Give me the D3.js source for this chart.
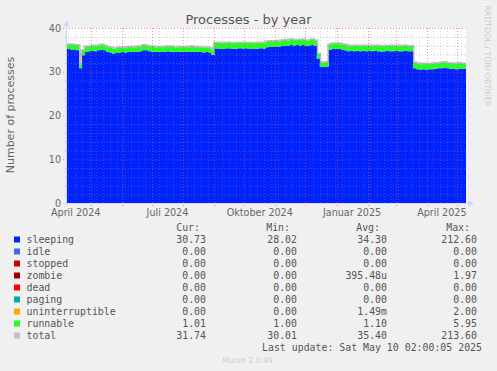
<!DOCTYPE html>
<html>
<head>
<meta charset="utf-8">
<title>Processes - by year</title>
<script src="https://d3js.org/d3.v7.min.js"></script>
<style>
  body { margin: 0; background: #f0f0f0; }
  svg { display: block; }
  text { font-family: "DejaVu Sans", sans-serif; }
  .mono { font-family: "DejaVu Sans Mono", monospace; }
</style>
</head>
<body>
<div id="chart"></div>
<script>
const width = 497, height = 371;

// graph window (one pixel is roughly one day)
const start = new Date(2024, 3, 7, 8);
const end = new Date(2025, 4, 10, 2);
const stepDays = 3;   // one sample every 3 days

// sleeping processes
const sleeping = [
  35.2, 35.1, 35.0, 34.9, 30.8, 33.8, 34.6, 34.7, 34.8, 34.7,
  34.9, 35.0, 34.9, 34.6, 34.4, 34.2, 34.3, 34.4, 34.5, 34.4,
  34.5, 34.6, 34.5, 34.6, 34.7, 34.9, 34.9, 34.7, 34.6, 34.5,
  34.6, 34.5, 34.6, 34.7, 34.6, 34.6, 34.5, 34.6, 34.5, 34.6,
  34.5, 34.6, 34.5, 34.6, 34.5, 34.4, 34.5, 34.4, 33.9, 35.3,
  35.3, 35.2, 35.3, 35.4, 35.3, 35.2, 35.3, 35.4, 35.3, 35.4,
  35.3, 35.3, 35.2, 35.3, 35.4, 35.3, 35.6, 35.8, 35.7, 35.8,
  35.7, 35.9, 36.0, 35.9, 36.1, 36.0, 36.1, 36.0, 36.1, 35.9,
  36.0, 36.1, 35.9, 33.0, 31.2, 31.1, 31.2, 35.0, 35.3, 35.2,
  35.3, 35.1, 34.9, 34.7, 34.8, 34.7, 34.8, 34.7, 34.8, 34.7,
  34.8, 34.7, 34.8, 34.7, 34.6, 34.7, 34.8, 34.7, 34.7, 34.8,
  34.7, 34.7, 34.8, 34.7, 34.7, 30.8, 30.6, 30.5, 30.6, 30.5,
  30.6, 30.6, 30.7, 30.8, 30.8, 30.9, 30.8, 30.7, 30.7, 30.6,
  30.7, 30.7, 30.7
];

// runnable processes
const runnable = [
  1.0, 1.1, 1.0, 1.1, 0.8, 1.0, 1.1, 1.0, 1.1, 1.1,
  1.0, 1.1, 1.0, 1.0, 1.1, 1.0, 1.0, 1.1, 1.0, 1.0,
  1.1, 1.0, 1.0, 1.1, 1.0, 1.1, 1.0, 1.0, 1.1, 1.0,
  1.0, 1.1, 1.0, 1.0, 1.1, 1.0, 1.0, 1.0, 1.1, 1.0,
  1.0, 1.1, 1.0, 1.0, 1.0, 1.1, 1.0, 1.0, 1.0, 1.3,
  1.3, 1.2, 1.3, 1.2, 1.2, 1.3, 1.2, 1.2, 1.3, 1.2,
  1.2, 1.2, 1.3, 1.2, 1.2, 1.2, 1.2, 1.1, 1.2, 1.2,
  1.1, 1.2, 1.2, 1.1, 1.2, 1.2, 1.1, 1.2, 1.2, 1.2,
  1.1, 1.2, 1.2, 1.0, 0.9, 0.9, 1.0, 1.2, 1.1, 1.2,
  1.1, 1.1, 1.2, 1.1, 1.1, 1.2, 1.1, 1.1, 1.1, 1.2,
  1.1, 1.1, 1.1, 1.2, 1.1, 1.1, 1.1, 1.2, 1.1, 1.1,
  1.1, 1.2, 1.1, 1.1, 1.1, 1.2, 1.2, 1.1, 1.2, 1.2,
  1.1, 1.2, 1.2, 1.1, 1.2, 1.2, 1.1, 1.2, 1.1, 1.1,
  1.2, 1.1, 1.0
];

const yTicks = [0, 10, 20, 30, 40];
const xLabelMonths = [new Date(2024, 3, 1), new Date(2024, 6, 1), new Date(2024, 9, 1), new Date(2025, 0, 1), new Date(2025, 3, 1)];
const xLabels = ["April 2024", "Juli 2024", "Oktober 2024", "Januar 2025", "April 2025"];

const legendNames = ["sleeping", "idle", "stopped", "zombie", "dead", "paging", "uninterruptible", "runnable", "total"];
const legendColors = ["#0022ff", "#4169e1", "#cc0000", "#990000", "#ff0000", "#00aaaa", "#ffa500", "#22ff22", "#c0c0c0"];
const curVals = ["30.73", "0.00", "0.00", "0.00", "0.00", "0.00", "0.00", "1.01", "31.74"];
const minVals = ["28.02", "0.00", "0.00", "0.00", "0.00", "0.00", "0.00", "1.00", "30.01"];
const avgVals = ["34.30", "0.00", "0.00", "395.48u", "0.00", "0.00", "1.49m", "1.10", "35.40"];
const maxVals = ["212.60", "0.00", "0.00", "1.97", "0.00", "0.00", "2.00", "5.95", "213.60"];

const rows = sleeping.map(function(v, i) {
  return { date: d3.timeDay.offset(start, i * stepDays), sleeping: v, runnable: runnable[i] };
});
// hold the last sample until the right edge
rows.push({ date: end, sleeping: sleeping[sleeping.length - 1], runnable: runnable[runnable.length - 1] });

const x = d3.scaleTime().domain([start, end]).range([67, 466]);
const y = d3.scaleLinear().domain([0, 40]).range([203, 28]);

const svg = d3.select("#chart").append("svg")
  .attr("width", width)
  .attr("height", height);

svg.append("rect").attr("width", width).attr("height", height).attr("fill", "#f0f0f0");
svg.append("rect")
  .attr("x", x.range()[0]).attr("y", y(40))
  .attr("width", x.range()[1] - x.range()[0]).attr("height", y(0) - y(40))
  .attr("fill", "#ffffff");

// stacked areas
const stack = d3.stack().keys(["sleeping", "runnable"]);
const series = stack(rows);
const area = d3.area()
  .curve(d3.curveStepAfter)
  .x(function(d) { return x(d.data.date); })
  .y0(function(d) { return y(d[0]); })
  .y1(function(d) { return y(d[1]); });

// total line (sum of the stacked series), drawn underneath so it peeks out above
const totalLine = d3.line()
  .curve(d3.curveStepAfter)
  .x(function(d) { return x(d.date); })
  .y(function(d) { return y(d.sleeping + d.runnable); });

svg.append("path")
  .datum(rows)
  .attr("fill", "none")
  .attr("stroke", "#c0c0c0")
  .attr("stroke-width", 3)
  .attr("d", totalLine);

svg.append("g").selectAll("path")
  .data(series)
  .join("path")
  .attr("fill", function(d) { return d.key == "sleeping" ? legendColors[0] : legendColors[7]; })
  .attr("d", area);

// grid
const grid = svg.append("g");
const minorY = d3.range(0, 41, 2).filter(function(v) { return v % 10 != 0; });
grid.selectAll(".hminor").data(minorY).join("line")
  .attr("x1", 65).attr("x2", 466)
  .attr("y1", function(d) { return y(d) + 0.5; }).attr("y2", function(d) { return y(d) + 0.5; })
  .attr("stroke", "rgba(140,140,140,0.5)").attr("stroke-dasharray", "1,2");

const months = d3.timeMonth.range(start, end);
const mondays = d3.timeMonday.range(start, end).filter(function(d) {
  return !months.some(function(m) { return Math.abs(m - d) < 86400000 * 1.5; });
});
grid.selectAll(".vminor").data(mondays).join("line")
  .attr("x1", function(d) { return Math.round(x(d)) + 0.5; }).attr("x2", function(d) { return Math.round(x(d)) + 0.5; })
  .attr("y1", y(40)).attr("y2", 205)
  .attr("stroke", "rgba(150,150,150,0.3)").attr("stroke-dasharray", "1,2");

grid.selectAll(".hmajor").data(yTicks.slice(1)).join("line")
  .attr("x1", 63).attr("x2", 466)
  .attr("y1", function(d) { return y(d) + 0.5; }).attr("y2", function(d) { return y(d) + 0.5; })
  .attr("stroke", "rgba(222,80,80,0.6)").attr("stroke-dasharray", "1,2");

grid.selectAll(".vmajor").data(months).join("line")
  .attr("x1", function(d) { return Math.round(x(d)) + 0.5; }).attr("x2", function(d) { return Math.round(x(d)) + 0.5; })
  .attr("y1", y(40)).attr("y2", 207)
  .attr("stroke", "rgba(222,80,80,0.6)").attr("stroke-dasharray", "1,2");

// axes
const axisCol = "#cfd6f8";
svg.append("line").attr("x1", 66.5).attr("x2", 66.5).attr("y1", 206).attr("y2", 23).attr("stroke", axisCol);
svg.append("line").attr("x1", 63).attr("x2", 470).attr("y1", 203.5).attr("y2", 203.5).attr("stroke", axisCol);
svg.append("path").attr("d", "M63.5,26 L66.5,20 L69.5,26 Z").attr("fill", axisCol);
svg.append("path").attr("d", "M468,200.5 L474,203.5 L468,206.5 Z").attr("fill", axisCol);

// y tick labels
svg.append("g").selectAll("text").data(yTicks).join("text")
  .attr("x", 61).attr("y", function(d) { return y(d) + 3.5; })
  .attr("text-anchor", "end")
  .attr("fill", "#666")
  .style("font-size", "9.6px")
  .text(function(d) { return d; });

// x labels centred in their month
svg.append("g").selectAll("text").data(xLabelMonths).join("text")
  .attr("x", function(d) { return x(new Date((+d + +d3.timeMonth.offset(d, 1)) / 2)); })
  .attr("y", 216)
  .attr("text-anchor", "middle")
  .attr("fill", "#666")
  .style("font-size", "9.6px")
  .text(function(d, i) { return xLabels[i]; });

// title and labels
svg.append("text")
  .attr("x", 248.5).attr("y", 24)
  .attr("text-anchor", "middle")
  .attr("fill", "#555")
  .style("font-size", "13px")
  .text("Processes - by year");

svg.append("text")
  .attr("transform", "translate(14,115) rotate(-90)")
  .attr("text-anchor", "middle")
  .attr("fill", "#666")
  .style("font-size", "11px")
  .text("Number of processes");

svg.append("text")
  .attr("transform", "translate(485,56) rotate(90)")
  .attr("text-anchor", "middle")
  .attr("fill", "#cccccc")
  .style("font-size", "7.9px")
  .text("RRDTOOL / TOBI OETIKER");

// legend
const legend = svg.append("g").attr("class", "mono").style("font-size", "9.9px").attr("fill", "#555");
const headers = ["Cur:", "Min:", "Avg:", "Max:"];
const headerRight = [200, 290, 380, 470];
const colRight = [206, 297, 387, 477];
legend.selectAll(".hdr").data(headers).join("text")
  .attr("class", "mono")
  .attr("x", function(d, i) { return headerRight[i]; })
  .attr("y", 230.5)
  .attr("text-anchor", "end")
  .text(function(d) { return d; });

const item = legend.selectAll(".item").data(legendNames).join("g")
  .attr("transform", function(d, i) { return "translate(0," + (242.5 + i * 12) + ")"; });
item.append("rect")
  .attr("x", 14).attr("y", -6).attr("width", 6).attr("height", 6)
  .attr("fill", function(d, i) { return legendColors[i]; });
item.append("text").attr("class", "mono").attr("x", 26.5).text(function(d) { return d; });
[curVals, minVals, avgVals, maxVals].forEach(function(col, c) {
  item.append("text").attr("class", "mono")
    .attr("x", colRight[c])
    .attr("text-anchor", "end")
    .text(function(d, i) { return col[i]; });
});

legend.append("text")
  .attr("class", "mono")
  .attr("x", 482).attr("y", 350.5)
  .attr("text-anchor", "end")
  .text("Last update: Sat May 10 02:00:05 2025");

svg.append("text")
  .attr("x", 222).attr("y", 362.5)
  .attr("fill", "#cccccc")
  .style("font-size", "7.8px")
  .text("Munin 2.0.49");
</script>
</body>
</html>
